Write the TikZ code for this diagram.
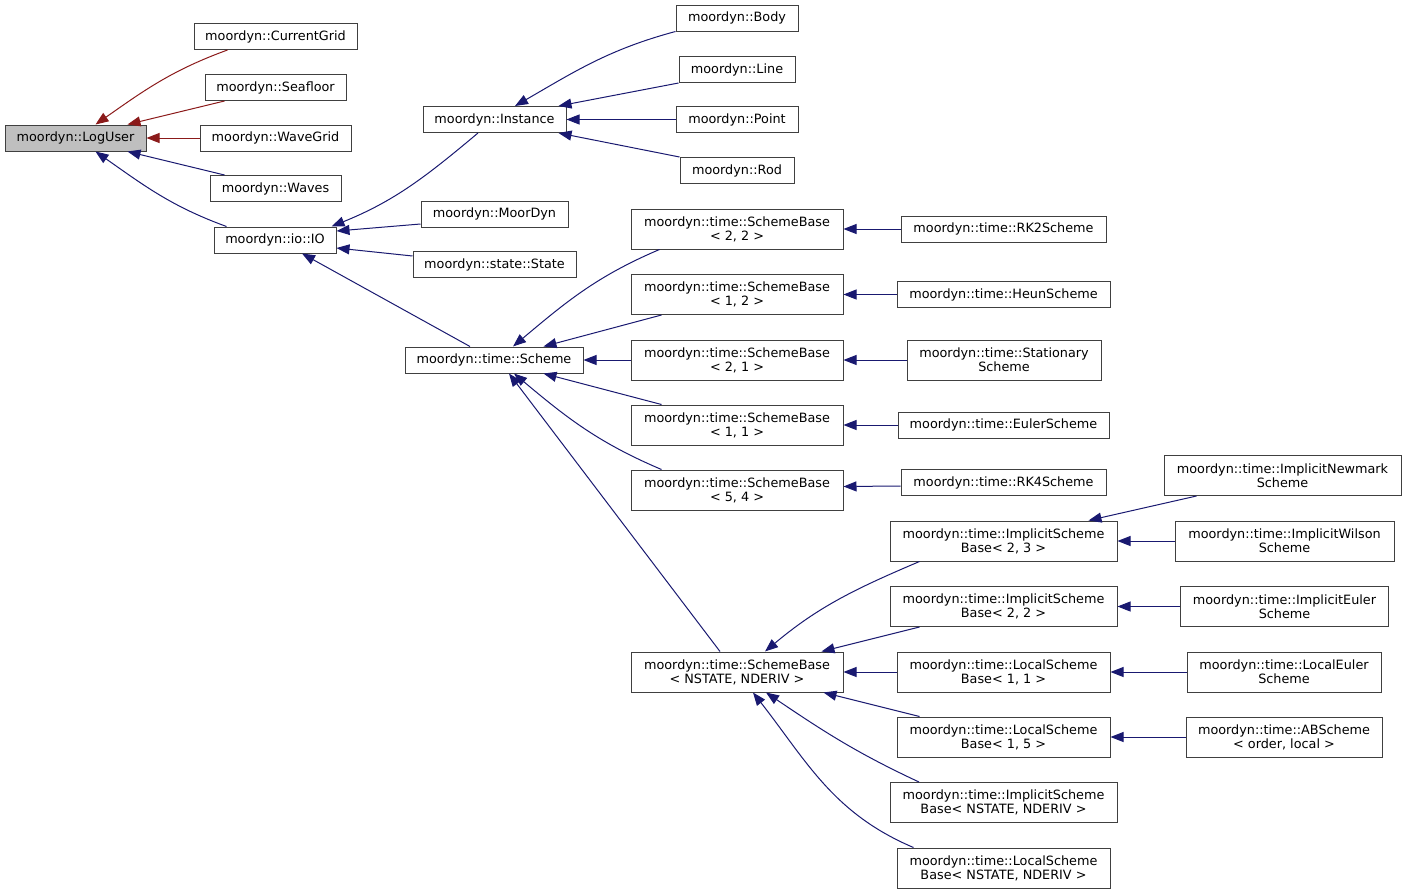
\documentclass[tikz,border=0pt]{standalone}
\usepackage{fontspec}
\setmainfont{DejaVu Sans}
\usetikzlibrary{arrows.meta}
\definecolor{azulhered}{HTML}{191970}
\definecolor{rojohered}{HTML}{8B1A1A}
\definecolor{bordecaja}{HTML}{404040}
\definecolor{grisraiz}{HTML}{BFBFBF}
\tikzset{
    caja/.style={draw=bordecaja, fill=white, line width=1pt, minimum height=26, inner sep=0pt, align=center, font=\fontsize{12.8}{14}\selectfont},
    cajados/.style={caja, minimum height=40},
    publica/.style={draw=azulhered, line width=1pt, -{Triangle[length=13pt, width=10pt]}},
    privada/.style={publica, draw=rojohered},
}

\begin{document}
\begin{tikzpicture}[x=1pt, y=1pt]
\useasboundingbox (0,0) rectangle (1409,-894);

% Clase raíz y derivadas directas
\node[caja, fill=grisraiz, minimum width=141] (lu) at (75.5,-138) {moordyn::LogUser};
\node[caja, minimum width=163] (cg) at (275.5,-36.5) {moordyn::CurrentGrid};
\node[caja, minimum width=141] (sf) at (275.5,-87.5) {moordyn::Seafloor};
\node[caja, minimum width=151] (wg) at (275.5,-138) {moordyn::WaveGrid};
\node[caja, minimum width=131] (wv) at (275.5,-188.5) {moordyn::Waves};
\node[caja, minimum width=122] (io) at (275,-240) {moordyn::io::IO};

% Derivadas de IO
\node[caja, minimum width=143] (inst) at (494.5,-119.5) {moordyn::Instance};
\node[caja, minimum width=147] (md) at (494.5,-214) {moordyn::MoorDyn};
\node[caja, minimum width=163] (st) at (494.5,-264.5) {moordyn::state::State};
\node[caja, minimum width=178] (sch) at (494,-360) {moordyn::time::Scheme};

% Derivadas de Instance
\node[caja, minimum width=122] (body) at (737,-18) {moordyn::Body};
\node[caja, minimum width=116] (line) at (737,-69.5) {moordyn::Line};
\node[caja, minimum width=122] (point) at (737,-119.5) {moordyn::Point};
\node[caja, minimum width=114] (rod) at (737,-170.5) {moordyn::Rod};

% Plantillas SchemeBase
\node[cajados, minimum width=212] (sb22) at (737,-229) {moordyn::time::SchemeBase\\< 2, 2 >};
\node[cajados, minimum width=212] (sb12) at (737,-294.5) {moordyn::time::SchemeBase\\< 1, 2 >};
\node[cajados, minimum width=212] (sb21) at (737,-360) {moordyn::time::SchemeBase\\< 2, 1 >};
\node[cajados, minimum width=212] (sb11) at (737,-425) {moordyn::time::SchemeBase\\< 1, 1 >};
\node[cajados, minimum width=212] (sb54) at (737,-490) {moordyn::time::SchemeBase\\< 5, 4 >};
\node[cajados, minimum width=212] (sbn) at (737,-672) {moordyn::time::SchemeBase\\< NSTATE, NDERIV >};

% Esquemas concretos
\node[caja, minimum width=205] (rk2) at (1003.5,-229) {moordyn::time::RK2Scheme};
\node[caja, minimum width=213] (heun) at (1003.5,-294.5) {moordyn::time::HeunScheme};
\node[cajados, minimum width=194] (stat) at (1004,-360) {moordyn::time::Stationary\\Scheme};
\node[caja, minimum width=211] (euler) at (1003.5,-425) {moordyn::time::EulerScheme};
\node[caja, minimum width=205] (rk4) at (1003.5,-482.5) {moordyn::time::RK4Scheme};
\node[cajados, minimum width=227] (isb23) at (1003.5,-541) {moordyn::time::ImplicitScheme\\Base< 2, 3 >};
\node[cajados, minimum width=227] (isb22) at (1003.5,-606.5) {moordyn::time::ImplicitScheme\\Base< 2, 2 >};
\node[cajados, minimum width=213] (lsb11) at (1003.5,-672) {moordyn::time::LocalScheme\\Base< 1, 1 >};
\node[cajados, minimum width=213] (lsb15) at (1003.5,-737) {moordyn::time::LocalScheme\\Base< 1, 5 >};
\node[cajados, minimum width=227] (isbn) at (1003.5,-802.5) {moordyn::time::ImplicitScheme\\Base< NSTATE, NDERIV >};
\node[cajados, minimum width=213] (lsbn) at (1003.5,-868) {moordyn::time::LocalScheme\\Base< NSTATE, NDERIV >};

% Última columna
\node[cajados, minimum width=237] (newmark) at (1282.5,-475.5) {moordyn::time::ImplicitNewmark\\Scheme};
\node[cajados, minimum width=219] (wilson) at (1284.5,-541) {moordyn::time::ImplicitWilson\\Scheme};
\node[cajados, minimum width=208] (ieuler) at (1284.5,-606.5) {moordyn::time::ImplicitEuler\\Scheme};
\node[cajados, minimum width=194] (leuler) at (1284,-672) {moordyn::time::LocalEuler\\Scheme};
\node[cajados, minimum width=196] (ab) at (1284,-737) {moordyn::time::ABScheme\\< order, local >};

% Herencia hacia LogUser
\draw[privada] ([xshift=34]cg.south west) to[out=200, in=35] ([xshift=20]lu.north);
\draw[privada] ([xshift=20]sf.south west) -- ([xshift=-19]lu.north east);
\draw[privada] (wg.west) -- (lu.east);
\draw[publica] ([xshift=15]wv.north west) -- ([xshift=-19]lu.south east);
\draw[publica] ([xshift=13]io.north west) to[out=160, in=-35] ([xshift=20]lu.south);

% Herencia hacia IO e Instance
\draw[publica] ([xshift=-16.5]inst.south) to[out=220, in=22] ([xshift=-5]io.north east);
\draw[publica] ([yshift=-10]md.west) -- ([yshift=9]io.east);
\draw[publica] ([yshift=8.5]st.west) -- ([yshift=-8]io.east);
\draw[publica] ([xshift=-24]sch.north) -- ([xshift=27]io.south);
\draw[publica] (body.south west) to[out=195, in=30] ([xshift=20.5]inst.north);
\draw[publica] (line.south west) -- ([xshift=-8]inst.north east);
\draw[publica] (point.west) -- (inst.east);
\draw[publica] (rod.north west) -- ([xshift=-8]inst.south east);

% Herencia hacia Scheme
\draw[publica] ([xshift=29]sb22.south west) to[out=203, in=40] ([xshift=19]sch.north);
\draw[publica] ([xshift=31]sb12.south west) -- ([xshift=-40]sch.north east);
\draw[publica] (sb21.west) -- (sch.east);
\draw[publica] ([xshift=31]sb11.north west) -- ([xshift=-40]sch.south east);
\draw[publica] ([xshift=31]sb54.north west) to[out=157, in=-40] ([xshift=20]sch.south);
\draw[publica] ([xshift=-17]sbn.north) -- ([xshift=15]sch.south);

% Herencia hacia las plantillas
\draw[publica] (rk2.west) -- (sb22.east);
\draw[publica] (heun.west) -- (sb12.east);
\draw[publica] (stat.west) -- (sb21.east);
\draw[publica] (euler.west) -- (sb11.east);
\draw[publica] ([yshift=-3.5]rk4.west) -- ([yshift=3.5]sb54.east);
\draw[publica] ([xshift=30]isb23.south west) to[out=203, in=40] ([xshift=28]sbn.north);
\draw[publica] ([xshift=30]isb22.south west) -- ([xshift=-22]sbn.north east);
\draw[publica] (lsb11.west) -- (sbn.east);
\draw[publica] ([xshift=23]lsb15.north west) -- ([xshift=-20]sbn.south east);
\draw[publica] ([xshift=29.5]isbn.north west) to[out=155, in=-34] ([xshift=29]sbn.south);
\draw[publica] ([xshift=17]lsbn.north west) to[out=157, in=-52] ([xshift=16]sbn.south);

% Última columna
\draw[publica] ([xshift=33]newmark.south west) -- ([xshift=-29]isb23.north east);
\draw[publica] (wilson.west) -- (isb23.east);
\draw[publica] (ieuler.west) -- (isb22.east);
\draw[publica] (leuler.west) -- (lsb11.east);
\draw[publica] (ab.west) -- (lsb15.east);
\end{tikzpicture}
\end{document}
